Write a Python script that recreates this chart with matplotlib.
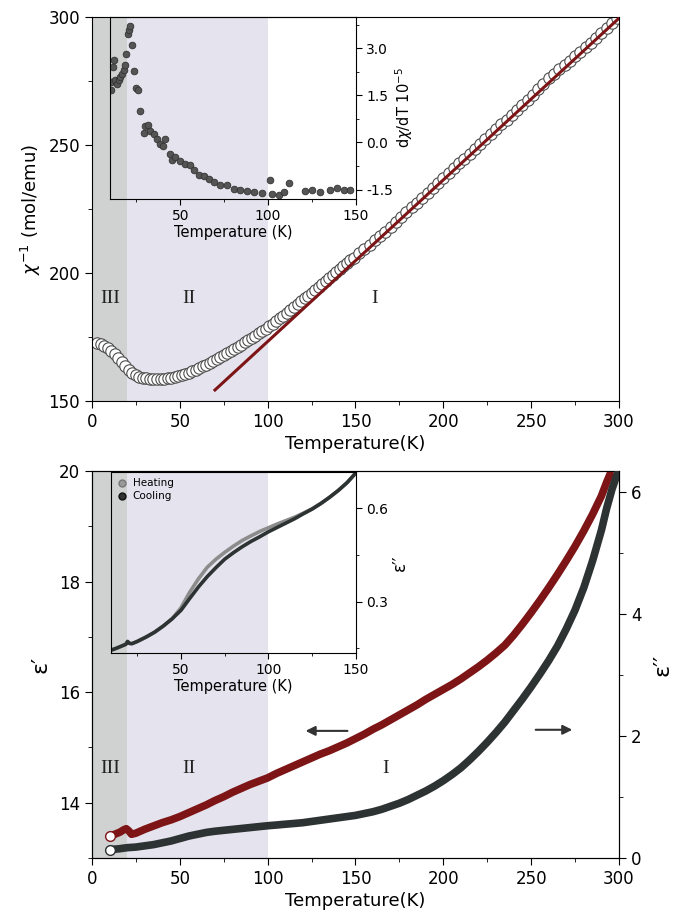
import numpy as np
import matplotlib
matplotlib.use('Agg')
import matplotlib.pyplot as plt
from matplotlib.ticker import MultipleLocator
from matplotlib.lines import Line2D

plt.rc('font', family='DejaVu Sans', size=12)

# ---- data: inverse susceptibility (top panel) ----
T_chi = [3, 5, 7, 9, 11, 13, 15, 17, 19, 21, 23, 25, 27, 29, 31, 33, 35, 37, 39, 41,
         43, 45, 47, 49, 51, 53, 55, 57, 59, 61, 63, 65, 67, 69, 71, 73, 75, 77, 79,
         81, 83, 85, 87, 89, 91, 93, 95, 97, 99, 101, 103, 105, 107, 109, 111, 113,
         115, 117, 119, 121, 123, 125, 127, 129, 131, 133, 135, 137, 139, 141, 143,
         145, 147, 149, 152, 155, 158, 161, 164, 167, 170, 173, 176, 179, 182, 185,
         188, 191, 194, 197, 200, 203, 206, 209, 212, 215, 218, 221, 224, 227, 230,
         233, 236, 239, 242, 245, 248, 251, 254, 257, 260, 263, 266, 269, 272, 275,
         278, 281, 284, 287, 290, 293, 296, 299]
chi_inv = [172.5, 172.2, 171.6, 170.7, 169.6, 168.2, 166.7, 165.1, 163.6, 162.1,
           160.9, 160.0, 159.4, 159.0, 158.8, 158.6, 158.5, 158.5, 158.5, 158.7,
           158.8, 159.0, 159.3, 159.6, 160.0, 160.5, 161.0, 161.6, 162.2, 162.8,
           163.5, 164.2, 164.9, 165.6, 166.4, 167.2, 168.0, 168.8, 169.6, 170.4,
           171.2, 172.0, 172.9, 173.7, 174.6, 175.5, 176.4, 177.3, 178.2, 179.2,
           180.2, 181.2, 182.3, 183.3, 184.4, 185.5, 186.6, 187.8, 188.9, 190.1,
           191.2, 192.3, 193.5, 194.6, 195.8, 197.0, 198.1, 199.3, 200.4, 201.6,
           202.7, 203.8, 204.9, 205.9, 207.8, 209.4, 211.1, 212.8, 214.3, 216.1,
           218.0, 219.9, 221.8, 223.7, 225.6, 227.5, 229.3, 231.2, 233.2, 235.1,
           237.0, 239.2, 241.1, 242.8, 244.7, 246.4, 248.4, 250.3, 252.2, 254.1,
           256.1, 258.0, 259.9, 261.9, 263.8, 265.6, 267.6, 269.6, 271.7, 274.0,
           276.0, 277.9, 279.6, 281.2, 282.9, 284.6, 286.4, 288.2, 290.0, 291.9,
           293.7, 295.6, 297.6, 299.5]
T_fit = [70, 300]
chi_fit = [154.3, 299.5]

# ---- data: d(chi)/dT inset ----
T_dchi = [10.6, 10.8, 11.8, 12.1, 13.1, 14.0, 15.0, 16.0, 16.9, 17.8, 18.4, 19.4,
          20.1, 20.7, 21.6, 22.6, 23.5, 25.0, 25.8, 27.3, 29.2, 30.2, 31.5, 33.0,
          34.9, 36.8, 38.7, 40.2, 41.5, 44.4, 45.3, 47.2, 50.1, 52.9, 55.4, 57.7,
          60.5, 63.5, 66.2, 69.0, 72.8, 76.6, 80.4, 84.2, 88.0, 91.8, 96.6, 100.9,
          102.3, 106.1, 108.9, 111.8, 121.2, 125.0, 129.8, 135.5, 139.3, 143.1, 146.8]
dchi = [1.68, 1.93, 2.40, 2.62, 2.00, 1.87, 2.00, 2.10, 2.17, 2.30, 2.46, 2.83,
        3.47, 3.60, 3.70, 3.12, 2.27, 1.75, 1.67, 1.00, 0.30, 0.51, 0.55, 0.38,
        0.28, 0.12, -0.04, -0.12, 0.12, -0.36, -0.55, -0.46, -0.59, -0.68, -0.73,
        -0.89, -1.05, -1.08, -1.17, -1.26, -1.34, -1.36, -1.47, -1.50, -1.54, -1.57,
        -1.60, -1.20, -1.64, -1.67, -1.57, -1.30, -1.54, -1.52, -1.57, -1.52, -1.45,
        -1.50, -1.50]

# ---- data: dielectric constant (bottom panel) ----
T_eps1 = [10, 13, 16, 18, 19.5, 21, 22.5, 25, 30, 35, 40, 45, 50, 55, 60, 65, 70, 75,
          80, 85, 90, 95, 100, 105, 110, 115, 120, 125, 130, 135, 140, 145, 150, 155,
          160, 165, 170, 175, 180, 185, 190, 195, 200, 205, 210, 215, 220, 225, 230,
          235, 240, 245, 250, 255, 260, 265, 270, 275, 280, 285, 290, 293, 295]
eps1 = [13.40, 13.43, 13.47, 13.51, 13.53, 13.49, 13.43, 13.45, 13.52, 13.58, 13.64,
        13.69, 13.75, 13.82, 13.89, 13.96, 14.04, 14.11, 14.19, 14.26, 14.33, 14.39,
        14.45, 14.53, 14.60, 14.67, 14.74, 14.81, 14.88, 14.94, 15.01, 15.08, 15.16,
        15.24, 15.33, 15.41, 15.50, 15.59, 15.68, 15.77, 15.87, 15.96, 16.05, 16.14,
        16.24, 16.35, 16.46, 16.58, 16.71, 16.85, 17.03, 17.23, 17.44, 17.66, 17.89,
        18.13, 18.38, 18.64, 18.92, 19.22, 19.55, 19.80, 19.95]
T_eps2 = [10, 15, 20, 25, 30, 35, 40, 45, 50, 55, 60, 65, 70, 75, 80, 85, 90, 95, 100,
          105, 110, 115, 120, 125, 130, 135, 140, 145, 150, 155, 160, 165, 170, 175,
          180, 185, 190, 195, 200, 205, 210, 215, 220, 225, 230, 235, 240, 245, 250,
          255, 260, 265, 270, 275, 280, 285, 290, 293, 296, 299]
eps2 = [0.14, 0.15, 0.17, 0.18, 0.20, 0.22, 0.25, 0.28, 0.32, 0.36, 0.39, 0.42, 0.44,
        0.455, 0.47, 0.485, 0.50, 0.515, 0.53, 0.542, 0.555, 0.567, 0.58, 0.60, 0.62,
        0.64, 0.66, 0.68, 0.70, 0.73, 0.76, 0.80, 0.85, 0.90, 0.96, 1.03, 1.10, 1.18,
        1.27, 1.37, 1.48, 1.61, 1.75, 1.90, 2.06, 2.23, 2.42, 2.61, 2.81, 3.02, 3.24,
        3.48, 3.76, 4.07, 4.44, 4.88, 5.38, 5.74, 6.05, 6.30]

# ---- data: loss inset (heating / cooling) ----
T_loss = [10.5, 13, 16, 18.5, 19.5, 20.5, 22, 25, 30, 35, 40, 45, 50, 55, 60, 65, 70,
          75, 80, 85, 90, 95, 100, 105, 110, 115, 120, 125, 130, 135, 140, 145, 149.5]
loss_cool = [0.145, 0.150, 0.157, 0.163, 0.172, 0.166, 0.165, 0.172, 0.186, 0.202,
             0.222, 0.245, 0.272, 0.310, 0.347, 0.380, 0.409, 0.436, 0.457, 0.476,
             0.493, 0.508, 0.524, 0.538, 0.552, 0.566, 0.582, 0.597, 0.615, 0.635,
             0.657, 0.682, 0.71]
loss_heat = [0.145, 0.150, 0.157, 0.163, 0.172, 0.166, 0.165, 0.172, 0.186, 0.202,
             0.222, 0.245, 0.280, 0.330, 0.373, 0.410, 0.436, 0.458, 0.478, 0.496,
             0.511, 0.525, 0.537, 0.549, 0.560, 0.571, 0.584, 0.598, 0.615, 0.635,
             0.657, 0.682, 0.71]

GRAY = '#d0d1d1'
LAV = '#e5e4ee'
RED = '#7d1416'
DARK = '#2d3232'

fig = plt.figure(figsize=(6.77, 9.17), dpi=100)

def shade(ax):
    ax.axvspan(0, 20, color=GRAY, lw=0, zorder=0)
    ax.axvspan(20, 100, color=LAV, lw=0, zorder=0)

def main_ticks(ax):
    ax.tick_params(which='both', direction='out', top=False, right=False, labelsize=12)
    ax.tick_params(which='major', length=5)
    ax.tick_params(which='minor', length=3)
    ax.xaxis.set_major_locator(MultipleLocator(50))
    ax.xaxis.set_minor_locator(MultipleLocator(25))

# ---------------- top panel ----------------
ax1 = fig.add_axes([0.1359, 0.5627, 0.7784, 0.4188])
shade(ax1)
ax1.plot(T_chi, chi_inv, 'o', ms=8.2, mfc='white', mec='#4d4d4d', mew=0.8, zorder=2)
ax1.plot(T_fit, chi_fit, '-', color=RED, lw=2.2, zorder=3)
ax1.set_xlim(0, 300)
ax1.set_ylim(150, 300)
main_ticks(ax1)
ax1.yaxis.set_major_locator(MultipleLocator(50))
ax1.yaxis.set_minor_locator(MultipleLocator(25))
ax1.set_xlabel('Temperature(K)', fontsize=13, labelpad=3)
ax1.set_ylabel(r'$\chi^{-1}$ (mol/emu)', fontsize=13, labelpad=4)
for t, s in [(10.5, 'III'), (55, 'II'), (161, 'I')]:
    ax1.text(t, 190, s, family='Liberation Serif', fontsize=14, ha='center', va='center',
             color='#222222')

# inset: d chi / dT
in1 = fig.add_axes([0.1624, 0.7830, 0.3633, 0.1985])
in1.patch.set_alpha(0)
in1.plot(T_dchi, dchi, 'o', ms=4.8, mfc='#555555', mec='#333333', mew=0.6)
in1.set_xlim(10, 150)
in1.set_ylim(-1.8, 4.0)
in1.yaxis.tick_right()
in1.yaxis.set_label_position('right')
in1.tick_params(which='both', direction='out', labelsize=10, top=False, left=False)
in1.tick_params(which='major', length=4)
in1.tick_params(which='minor', length=2.5)
in1.xaxis.set_major_locator(MultipleLocator(50))
in1.xaxis.set_minor_locator(MultipleLocator(25))
in1.yaxis.set_minor_locator(MultipleLocator(0.75))
in1.set_yticks([-1.5, 0.0, 1.5, 3.0])
in1.set_yticklabels(['-1.5', '0.0', '1.5', '3.0'])
in1.set_xlabel('Temperature (K)', fontsize=10.5, labelpad=1)
in1.set_ylabel(r'd$\chi$/dT 10$^{-5}$', fontsize=10.5, labelpad=0)

# ---------------- bottom panel ----------------
ax2 = fig.add_axes([0.1359, 0.0643, 0.7784, 0.4220])
shade(ax2)
ax2.plot(T_eps1, eps1, '-', color=RED, lw=5.5, solid_capstyle='round',
         solid_joinstyle='round', zorder=3)
ax2.plot(T_eps1[:1], eps1[:1], 'o', ms=7, mfc='white', mec=RED, mew=1.0, zorder=4)
ax2.set_xlim(0, 300)
ax2.set_ylim(13, 20)
main_ticks(ax2)
ax2.yaxis.set_major_locator(MultipleLocator(2))
ax2.yaxis.set_minor_locator(MultipleLocator(1))
ax2.set_xlabel('Temperature(K)', fontsize=13, labelpad=3)
ax2.set_ylabel('ε′', fontsize=16, labelpad=6)
for t, s in [(10.5, 'III'), (55, 'II'), (167, 'I')]:
    ax2.text(t, 14.62, s, family='Liberation Serif', fontsize=14, ha='center', va='center',
             color='#222222')
ax2.annotate('', xy=(120, 15.3), xytext=(147, 15.3),
             arrowprops=dict(arrowstyle='-|>', color='#333333', lw=1.5, mutation_scale=14))
ax2.annotate('', xy=(275, 15.32), xytext=(251, 15.32),
             arrowprops=dict(arrowstyle='-|>', color='#333333', lw=1.5, mutation_scale=14))

tw = ax2.twinx()
tw.set_position(ax2.get_position())
tw.plot(T_eps2, eps2, '-', color=DARK, lw=5.5, solid_capstyle='round',
        solid_joinstyle='round', zorder=3)
tw.plot(T_eps2[:1], eps2[:1], 'o', ms=7, mfc='white', mec=DARK, mew=1.0, zorder=4)
tw.set_ylim(0, 6.35)
tw.tick_params(which='both', direction='out', labelsize=12)
tw.tick_params(which='major', length=5)
tw.tick_params(which='minor', length=3)
tw.yaxis.set_major_locator(MultipleLocator(2))
tw.yaxis.set_minor_locator(MultipleLocator(1))
tw.set_ylabel('ε′′', fontsize=16, labelpad=8)

# inset: loss heating / cooling
in2 = fig.add_axes([0.1639, 0.2879, 0.3618, 0.1974])
in2.patch.set_alpha(0)
in2.plot(T_loss, loss_heat, '-', color='#8c8c8c', lw=2.6, solid_joinstyle='round')
in2.plot(T_loss, loss_cool, '-', color=DARK, lw=2.6, solid_joinstyle='round')
in2.set_xlim(10, 150)
in2.set_ylim(0.135, 0.716)
in2.yaxis.tick_right()
in2.yaxis.set_label_position('right')
in2.tick_params(which='both', direction='out', labelsize=10, top=False, left=False)
in2.tick_params(which='major', length=4)
in2.tick_params(which='minor', length=2.5)
in2.xaxis.set_major_locator(MultipleLocator(50))
in2.xaxis.set_minor_locator(MultipleLocator(25))
in2.yaxis.set_major_locator(MultipleLocator(0.3))
in2.yaxis.set_minor_locator(MultipleLocator(0.15))
in2.set_xlabel('Temperature (K)', fontsize=10.5, labelpad=1)
in2.set_ylabel('ε′′', fontsize=12, labelpad=2)
handles = [Line2D([], [], ls='', marker='o', ms=5, mfc='#9a9a9a', mec='#777777'),
           Line2D([], [], ls='', marker='o', ms=5, mfc='#333333', mec='#111111')]
in2.legend(handles, ['Heating', 'Cooling'], loc='upper left', frameon=False,
           fontsize=7.5, handletextpad=0.5, borderaxespad=0.2, labelspacing=0.3,
           handlelength=1.0)

fig.savefig('out.png', dpi=100)
